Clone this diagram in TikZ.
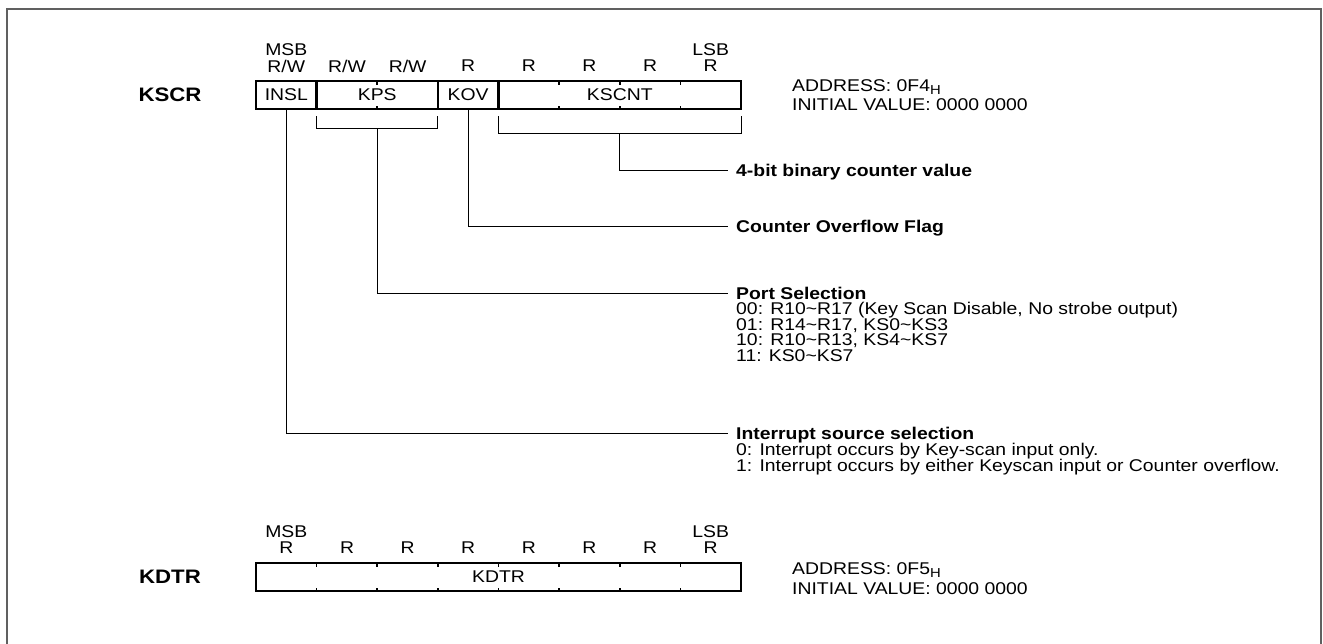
\documentclass[tikz,border=0pt]{standalone}
\usepackage{fontspec}
\setmainfont{Liberation Sans}[FakeStretch=1.14]
\newcommand\tildech{\textasciitilde}
\newcommand\subH{\raisebox{-3pt}{\fontsize{13}{13}\selectfont H}}
\begin{document}
\begin{tikzpicture}[x=1pt,y=-1pt,
  tx/.style={inner sep=0pt, font=\fontsize{17}{18}\selectfont},
  bt/.style={inner sep=0pt, font=\fontsize{17}{18}\selectfont\bfseries},
  rl/.style={inner sep=0pt, font=\fontsize{19.5}{20}\selectfont\bfseries},
  field/.style={draw, line width=2.4pt, minimum height=28pt, inner sep=0pt, font=\fontsize{17}{18}\selectfont},
  conn/.style={line width=0.9pt},
  tick/.style={line width=1.6pt},
  frame/.style={draw=gray!75!black, line width=2pt}]
\useasboundingbox (0,0) rectangle (1323,643);
\clip (0,0) rectangle (1323,643);
\draw[frame] (7,700) -- (7,9) -- (1321,9) -- (1321,700);

% ---------------- KSCR ----------------
\node[rl] (kscrl) at (170,95) {KSCR};
\node[tx] (msb1) at (286.3,50) {MSB};
\node[tx] (lsb1) at (710.7,50) {LSB};
\node[tx] (acc1) at (286.3,66) {R/W};
\node[tx] (acc2) at (347,66) {R/W};
\node[tx] (acc3) at (407.6,66) {R/W};
\foreach \x [count=\i from 4] in {468.2,528.8,589.4,650,710.7}
  \node[tx] (acc\i) at (\x,66) {R};
\node[field, minimum width=60.6pt] (insl) at (286.3,95) {INSL};
\node[field, minimum width=121.3pt] (kps) at (377.25,95) {KPS};
\node[field, minimum width=60.6pt] (kov) at (468.2,95) {KOV};
\node[field, minimum width=242.5pt] (kscnt) at (619.75,95) {KSCNT};
\foreach \x in {377.25,559.1,619.75,680.4}{
  \draw[tick] (\x,81) -- (\x,84.5);
  \draw[tick] (\x,109) -- (\x,105.5);}
\node[tx, anchor=base west] (addr1) at (792,91) {ADDRESS: 0F4\subH};
\node[tx, anchor=base west] (init1) at (792,110) {INITIAL VALUE: 0000 0000};

% brackets
\coordinate (kpsL) at (316.6,116);
\coordinate (kpsR) at (437.9,116);
\coordinate (kpsB) at (377.25,128);
\coordinate (cntL) at (498.5,116);
\coordinate (cntR) at (741,116);
\coordinate (cntB) at (619.75,133);
\draw[conn] (kpsL) -- (kpsL |- kpsB) -- (kpsR |- kpsB) -- (kpsR);
\draw[conn] (cntL) -- (cntL |- cntB) -- (cntR |- cntB) -- (cntR);

% descriptions
\node[bt, anchor=base west] (d4) at (736,176) {4-bit binary counter value};
\node[bt, anchor=base west] (dov) at (736,232) {Counter Overflow Flag};
\node[bt, anchor=base west] (dps) at (736,299) {Port Selection};
\foreach \t [count=\i] in {{00: R10\tildech R17 (Key Scan Disable, No strobe output)},{01: R14\tildech R17, KS0\tildech KS3},{10: R10\tildech R13, KS4\tildech KS7},{11: KS0\tildech KS7}}
  \node[tx, anchor=base west] (dps\i) at (736,299+\i*15.5) {\t};
\node[bt, anchor=base west] (din) at (736,439) {Interrupt source selection};
\node[tx, anchor=base west] (din1) at (736,455) {0: Interrupt occurs by Key-scan input only.};
\node[tx, anchor=base west] (din2) at (736,471) {1: Interrupt occurs by either Keyscan input or Counter overflow.};

\draw[conn] (cntB) |- ([xshift=-8pt,yshift=6pt]d4.base west);
\draw[conn] (kov.south) |- ([xshift=-8pt,yshift=6pt]dov.base west);
\draw[conn] (kpsB) |- ([xshift=-8pt,yshift=6pt]dps.base west);
\draw[conn] (insl.south) |- ([xshift=-8pt,yshift=6pt]din.base west);

% ---------------- KDTR ----------------
\node[rl] (kdtrl) at (170,577) {KDTR};
\node[tx] (msb2) at (286.3,532) {MSB};
\node[tx] (lsb2) at (710.7,532) {LSB};
\foreach \x [count=\i] in {286.3,347,407.6,468.2,528.8,589.4,650,710.7}
  \node[tx] (racc\i) at (\x,548) {R};
\node[field, minimum width=485pt] (kdtr) at (498.5,577) {KDTR};
\foreach \x in {316.6,377.25,437.9,498.5,559.1,619.75,680.4}{
  \draw[tick] (\x,563) -- (\x,566.5);
  \draw[tick] (\x,591) -- (\x,587.5);}
\node[tx, anchor=base west] (addr2) at (792,574) {ADDRESS: 0F5\subH};
\node[tx, anchor=base west] (init2) at (792,594) {INITIAL VALUE: 0000 0000};
\end{tikzpicture}
\end{document}
